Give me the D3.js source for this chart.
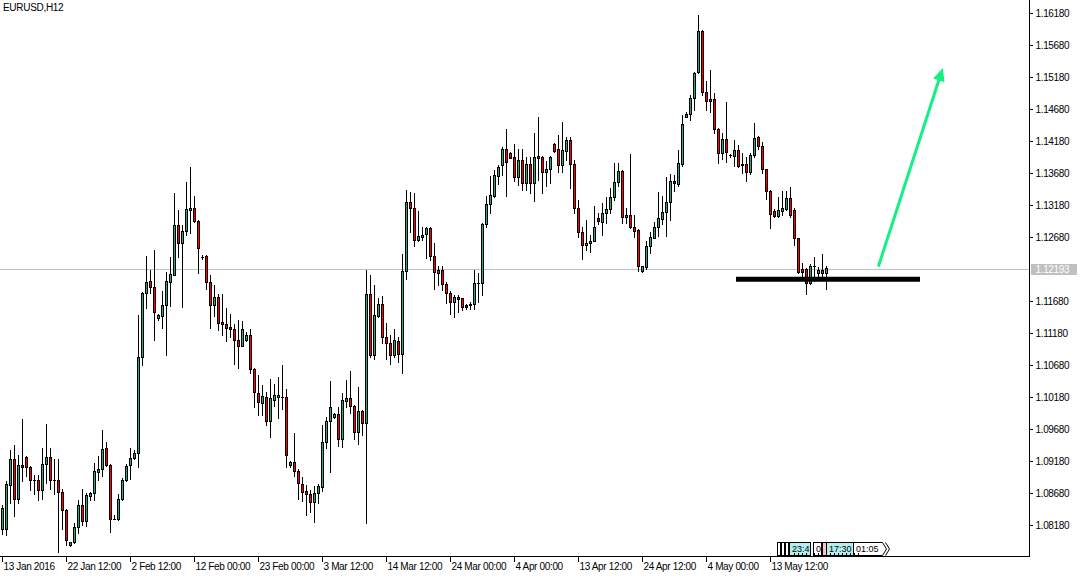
<!DOCTYPE html>
<html><head><meta charset="utf-8">
<script src="https://cdn.jsdelivr.net/npm/d3@7"></script>
<style>
html,body{margin:0;padding:0;background:#fff;}
svg{display:block;font-family:"Liberation Sans",Arial,sans-serif;}
</style></head><body>
<svg id="chart" width="1082" height="578"></svg>
<script>
const symbolTitle = "EURUSD,H12";

const opens = [1.0812,1.0811,1.0881,1.0921,1.0859,1.0911,1.0925,1.0909,1.0889,1.0889,
1.0872,1.0913,1.0925,1.0889,1.0889,1.0869,1.0842,1.0787,1.0791,1.0815,
1.0849,1.0825,1.0864,1.0868,1.0901,1.0905,1.0938,1.0911,1.0828,1.0827,
1.0858,1.0888,1.0911,1.0922,1.0930,1.1080,1.1180,1.1199,1.1190,1.1141,
1.1144,1.1161,1.1198,1.1209,1.1287,1.1258,1.1277,1.1310,1.1313,1.1293,
1.1237,1.1238,1.1198,1.1162,1.1174,1.1135,1.1132,1.1127,1.1124,1.1107,
1.1098,1.1107,1.1115,1.1061,1.1025,1.1009,1.1018,1.0981,1.1014,1.1018,
1.1018,1.1018,1.0911,1.0916,1.0902,1.0882,1.0871,1.0866,1.0854,1.0868,
1.0878,1.0947,1.0980,1.0986,1.0991,1.0952,1.1012,1.1016,1.1004,1.0963,
1.0996,1.0977,1.1179,1.1083,1.1145,1.1164,1.1111,1.1102,1.1083,1.1106,
1.1085,1.1215,1.1322,1.1314,1.1264,1.1268,1.1272,1.1282,1.1239,1.1211,
1.1216,1.1195,1.1181,1.1167,1.1175,1.1172,1.1162,1.1161,1.1164,1.1196,
1.1196,1.1289,1.1319,1.1332,1.1364,1.1381,1.1405,1.1400,1.1393,1.1362,
1.1389,1.1353,1.1382,1.1352,1.1395,1.1393,1.1370,1.1374,1.1413,1.1405,
1.1381,1.1403,1.1420,1.1382,1.1313,1.1276,1.1255,1.1258,1.1262,1.1298,
1.1292,1.1305,1.1311,1.1330,1.1354,1.1371,1.1299,1.1302,1.1283,1.1279,
1.1215,1.1221,1.1254,1.1267,1.1283,1.1296,1.1307,1.1322,1.1356,1.1351,
1.1382,1.1456,1.1460,1.1485,1.1526,1.1590,1.1494,1.1484,1.1484,1.1436,
1.1400,1.1421,1.1396,1.1395,1.1404,1.1382,1.1382,1.1369,1.1396,1.1424,
1.1410,1.1374,1.1340,1.1309,1.1301,1.1309,1.1312,1.1329,1.1310,1.1266,
1.1218,1.1218,1.1196,1.1222,1.1212,1.1216,1.1211];

const highs = [1.0850,1.0887,1.0935,1.0943,1.0927,1.0984,1.0926,1.0910,1.0896,1.0896,
1.0938,1.0976,1.0938,1.0921,1.0921,1.0875,1.0843,1.0792,1.0821,1.0857,
1.0874,1.0868,1.0869,1.0915,1.0926,1.0966,1.0948,1.0913,1.0833,1.0866,
1.0892,1.0914,1.0938,1.0935,1.1146,1.1182,1.1238,1.1216,1.1247,1.1147,
1.1184,1.1214,1.1236,1.1337,1.1310,1.1287,1.1354,1.1377,1.1332,1.1295,
1.1240,1.1240,1.1209,1.1193,1.1179,1.1179,1.1157,1.1148,1.1132,1.1138,
1.1137,1.1120,1.1124,1.1063,1.1052,1.1037,1.1026,1.1046,1.1039,1.1050,
1.1068,1.1030,1.0918,1.0961,1.0906,1.0893,1.0881,1.0872,1.0879,1.0882,
1.0975,1.0986,1.1043,1.0993,1.1003,1.1024,1.1045,1.1058,1.1005,1.1034,
1.0997,1.1216,1.1209,1.1193,1.1172,1.1176,1.1133,1.1115,1.1124,1.1112,
1.1241,1.1341,1.1338,1.1336,1.1308,1.1284,1.1284,1.1284,1.1258,1.1222,
1.1222,1.1197,1.1183,1.1178,1.1177,1.1172,1.1164,1.1167,1.1216,1.1211,
1.1290,1.1332,1.1364,1.1373,1.1381,1.1408,1.1437,1.1401,1.1413,1.1405,
1.1405,1.1393,1.1393,1.1430,1.1456,1.1394,1.1387,1.1394,1.1415,1.1427,
1.1447,1.1425,1.1424,1.1389,1.1326,1.1284,1.1295,1.1271,1.1317,1.1306,
1.1321,1.1330,1.1344,1.1384,1.1383,1.1373,1.1313,1.1398,1.1302,1.1280,
1.1223,1.1261,1.1276,1.1292,1.1339,1.1332,1.1361,1.1366,1.1365,1.1404,
1.1459,1.1463,1.1490,1.1526,1.1615,1.1591,1.1511,1.1529,1.1493,1.1438,
1.1431,1.1479,1.1398,1.1419,1.1412,1.1400,1.1393,1.1399,1.1446,1.1426,
1.1417,1.1375,1.1341,1.1311,1.1330,1.1340,1.1340,1.1346,1.1314,1.1267,
1.1228,1.1219,1.1226,1.1237,1.1221,1.1241,1.1223];

const lows = [1.0804,1.0803,1.0853,1.0832,1.0852,1.0887,1.0894,1.0873,1.0867,1.0857,
1.0858,1.0883,1.0874,1.0866,1.0776,1.0811,1.0787,1.0785,1.0790,1.0806,
1.0818,1.0816,1.0857,1.0857,1.0888,1.0894,1.0910,1.0807,1.0827,1.0826,
1.0857,1.0886,1.0890,1.0921,1.0909,1.1068,1.1157,1.1181,1.1107,1.1139,
1.1126,1.1084,1.1160,1.1208,1.1236,1.1159,1.1271,1.1274,1.1292,1.1212,
1.1233,1.1186,1.1126,1.1145,1.1122,1.1115,1.1105,1.1112,1.1070,1.1063,
1.1097,1.1106,1.1055,1.1002,1.0990,1.0990,1.0974,1.0956,1.1004,1.0985,
1.1000,1.0909,1.0908,1.0895,1.0858,1.0856,1.0833,1.0839,1.0823,1.0853,
1.0871,1.0939,1.0901,1.0985,1.0942,1.0940,1.1002,1.0993,1.0953,1.0944,
1.0959,1.0821,1.1081,1.1078,1.1143,1.1103,1.1077,1.1070,1.1080,1.1072,
1.1056,1.1202,1.1276,1.1254,1.1261,1.1264,1.1235,1.1232,1.1186,1.1193,
1.1185,1.1165,1.1148,1.1143,1.1151,1.1154,1.1155,1.1155,1.1155,1.1167,
1.1178,1.1283,1.1305,1.1330,1.1351,1.1365,1.1332,1.1391,1.1355,1.1349,
1.1341,1.1341,1.1337,1.1325,1.1357,1.1336,1.1348,1.1353,1.1401,1.1370,
1.1370,1.1389,1.1344,1.1306,1.1268,1.1233,1.1247,1.1244,1.1261,1.1289,
1.1271,1.1290,1.1305,1.1326,1.1348,1.1290,1.1290,1.1282,1.1268,1.1215,
1.1214,1.1218,1.1243,1.1266,1.1269,1.1288,1.1269,1.1295,1.1340,1.1348,
1.1379,1.1455,1.1451,1.1466,1.1524,1.1490,1.1466,1.1464,1.1431,1.1384,
1.1390,1.1385,1.1393,1.1379,1.1378,1.1368,1.1356,1.1367,1.1393,1.1405,
1.1368,1.1327,1.1282,1.1299,1.1299,1.1302,1.1310,1.1300,1.1256,1.1212,
1.1206,1.1179,1.1195,1.1200,1.1206,1.1206,1.1186];

const closes = [1.0845,1.0882,1.0921,1.0859,1.0911,1.0908,1.0908,1.0889,1.0889,1.0872,
1.0913,1.0925,1.0889,1.0889,1.0869,1.0842,1.0794,1.0791,1.0815,1.0849,
1.0825,1.0865,1.0868,1.0902,1.0905,1.0936,1.0911,1.0828,1.0828,1.0858,
1.0888,1.0910,1.0922,1.0930,1.1080,1.1180,1.1198,1.1190,1.1151,1.1146,
1.1161,1.1199,1.1210,1.1287,1.1258,1.1277,1.1311,1.1313,1.1293,1.1251,
1.1237,1.1197,1.1161,1.1174,1.1134,1.1132,1.1126,1.1124,1.1107,1.1098,
1.1125,1.1115,1.1061,1.1026,1.1010,1.1020,1.0981,1.1016,1.1021,1.1021,
1.1018,1.0927,1.0916,1.0902,1.0883,1.0870,1.0866,1.0854,1.0868,1.0879,
1.0947,1.0980,1.1003,1.0991,1.0952,1.1013,1.1016,1.1004,1.0963,1.0996,
1.0977,1.1179,1.1083,1.1146,1.1163,1.1111,1.1102,1.1083,1.1107,1.1085,
1.1215,1.1322,1.1314,1.1264,1.1270,1.1271,1.1282,1.1239,1.1213,1.1216,
1.1195,1.1181,1.1166,1.1175,1.1171,1.1158,1.1159,1.1164,1.1196,1.1196,
1.1289,1.1319,1.1333,1.1365,1.1378,1.1405,1.1385,1.1392,1.1362,1.1389,
1.1353,1.1382,1.1352,1.1393,1.1392,1.1369,1.1374,1.1393,1.1403,1.1380,
1.1404,1.1420,1.1382,1.1313,1.1276,1.1255,1.1258,1.1262,1.1283,1.1293,
1.1305,1.1311,1.1330,1.1354,1.1371,1.1299,1.1302,1.1283,1.1278,1.1222,
1.1222,1.1254,1.1268,1.1284,1.1297,1.1307,1.1322,1.1356,1.1352,1.1383,
1.1445,1.1460,1.1485,1.1524,1.1590,1.1494,1.1481,1.1481,1.1436,1.1400,
1.1421,1.1401,1.1396,1.1404,1.1379,1.1380,1.1369,1.1396,1.1422,1.1410,
1.1374,1.1340,1.1304,1.1301,1.1310,1.1313,1.1329,1.1302,1.1266,1.1214,
1.1214,1.1196,1.1223,1.1222,1.1216,1.1211,1.1219];

const timeTickIndex = [0,16,32,48,64,80,96,112,128,144,160,176,192];
const timeTickLabels = ["13 Jan 2016","22 Jan 12:00","2 Feb 12:00","12 Feb 00:00","23 Feb 00:00",
  "3 Mar 12:00","14 Mar 12:00","24 Mar 00:00","4 Apr 00:00","13 Apr 12:00","24 Apr 12:00",
  "4 May 00:00","13 May 12:00"];
const priceTicks = [1.0818,1.0868,1.0918,1.0968,1.1018,1.1068,1.1118,1.1168,
  1.1268,1.1318,1.1368,1.1418,1.1468,1.1518,1.1568,1.1618];
const currentPrice = 1.12193;
const supportLevel = 1.1202;
const supportRange = [183.5, 229.5];
const arrowStart = [219.1, 1.1222];
const arrowEnd = [235.2, 1.1532];
const eventLabels = ["", "", "", "23:4", "0", "", "17:30", "01:05"];
const eventKinds = ["w","w","w","c","w","p","c","w"];

const svg = d3.select("#chart");
const W = 1082, H = 578;
const axisX = 1029, axisY = 556;
const N = opens.length;

const x = d3.scaleLinear().domain([0, N - 1]).range([2, 2 + 4 * (N - 1)]);
const y = d3.scaleLinear().domain([1.0818, 1.1618]).range([525, 13]);

svg.append("rect").attr("width", W).attr("height", H).attr("fill", "#fff");

const plot = svg.append("g").attr("shape-rendering", "crispEdges");

// current price (bid) line
const cy = Math.round(y(currentPrice)) + 1;
plot.append("rect").attr("x", 0).attr("y", cy).attr("width", axisX).attr("height", 1).attr("fill", "#c0c0c0");

// candles
const candles = d3.range(N).map(i => ({i, o: opens[i], h: highs[i], l: lows[i], c: closes[i]}));
const BULL = "#31a36b", BEAR = "#ff0000";
const cg = plot.append("g").selectAll("g").data(candles).join("g");
cg.each(function(d) {
  const g = d3.select(this);
  const cx = Math.round(x(d.i));
  const yh = Math.round(y(d.h)), yl = Math.round(y(d.l));
  const yt = Math.round(y(Math.max(d.o, d.c))), yb = Math.round(y(Math.min(d.o, d.c)));
  g.append("rect").attr("x", cx).attr("y", yh).attr("width", 1).attr("height", yl - yh + 1).attr("fill", "#000");
  g.append("rect").attr("x", cx - 1).attr("y", yt).attr("width", 3).attr("height", yb - yt + 1).attr("fill", "#000");
  if (yb - yt >= 2 && d.c !== d.o) {
    g.append("rect").attr("x", cx).attr("y", yt + 1).attr("width", 1).attr("height", yb - yt - 1)
      .attr("fill", d.c > d.o ? BULL : BEAR);
  }
});

// axis frame lines
plot.append("rect").attr("x", axisX).attr("y", 0).attr("width", 1).attr("height", axisY + 1).attr("fill", "#000");
plot.append("rect").attr("x", 0).attr("y", axisY).attr("width", axisX + 1).attr("height", 1).attr("fill", "#000");

// y axis
const yAxis = d3.axisRight(y).tickValues(priceTicks).tickFormat(d3.format(".5f"))
  .tickSize(3).tickSizeOuter(0).tickPadding(3);
const yg = svg.append("g").attr("transform", `translate(${axisX + 0.5},0)`).call(yAxis);
yg.select(".domain").remove();
yg.selectAll(".tick line").attr("stroke", "#000").attr("shape-rendering", "crispEdges");
yg.selectAll(".tick text").attr("fill", "#000").attr("font-size", "10px")
  .attr("font-family", "Liberation Sans, Arial, sans-serif").attr("letter-spacing", "-0.35px");

// x axis
const xAxis = d3.axisBottom(x).tickValues(timeTickIndex).tickFormat((d, i) => timeTickLabels[i])
  .tickSize(5).tickSizeOuter(0).tickPadding(1);
const xg = svg.append("g").attr("transform", `translate(0,${axisY + 0.5})`).call(xAxis);
xg.select(".domain").remove();
xg.selectAll(".tick line").attr("stroke", "#000").attr("shape-rendering", "crispEdges");
xg.selectAll(".tick text").attr("fill", "#000").attr("font-size", "10px")
  .attr("font-family", "Liberation Sans, Arial, sans-serif").attr("letter-spacing", "-0.35px")
  .attr("text-anchor", "start").attr("x", 1);

// current price label
const lab = svg.append("g");
lab.append("rect").attr("x", 1031).attr("y", cy - 5).attr("width", 46).attr("height", 11).attr("fill", "#c0c0c0")
  .attr("shape-rendering", "crispEdges");
lab.append("text").attr("x", 1035.5).attr("y", cy + 0.5).attr("dy", "0.33em").attr("fill", "#fff")
  .attr("font-size", "10px").attr("letter-spacing", "-0.35px").text(d3.format(".5f")(currentPrice));

// title
svg.append("text").attr("x", 3).attr("y", 11).attr("font-size", "10px").attr("letter-spacing", "-0.3px")
  .attr("fill", "#000").text(symbolTitle);

// support line
svg.append("line").attr("x1", x(supportRange[0])).attr("x2", x(supportRange[1]))
  .attr("y1", y(supportLevel)).attr("y2", y(supportLevel))
  .attr("stroke", "#000").attr("stroke-width", 5);

// arrow
const ARROW = "#14f084";
const ax0 = x(arrowStart[0]), ay0 = y(arrowStart[1]);
const ax1 = x(arrowEnd[0]), ay1 = y(arrowEnd[1]);
const len = Math.hypot(ax1 - ax0, ay1 - ay0);
const ux = (ax1 - ax0) / len, uy = (ay1 - ay0) / len;
const headL = 13, headW = 6;
const bx = ax1 - ux * headL, by = ay1 - uy * headL;
svg.append("line").attr("x1", ax0).attr("y1", ay0).attr("x2", bx + ux * 2).attr("y2", by + uy * 2)
  .attr("stroke", ARROW).attr("stroke-width", 3);
svg.append("path").attr("d", `M${ax1},${ay1}L${bx - uy * headW},${by + ux * headW}L${bx + uy * headW},${by - ux * headW}Z`)
  .attr("fill", ARROW);

// event boxes at bottom
const evX = [777.5, 781.5, 785.5, 789.5, 813.5, 822.5, 826.5, 853.5];
const evW = [3, 3, 3, 21, 8, 4, 27, 29];
const fills = {w: "#ffffff", c: "#b4efef", p: "#ffc0cb"};
const ev = svg.append("g").attr("font-size", "9px");
eventLabels.forEach((t, k) => {
  if (k === eventLabels.length - 1) {
    const x0 = evX[k], x1 = evX[k] + evW[k];
    ev.append("path").attr("d", `M${x0},542.5H${x1}L${x1 + 4},549L${x1},555.5H${x0}Z`)
      .attr("fill", fills[eventKinds[k]]).attr("stroke", "#000").attr("stroke-width", 1);
    ev.append("path").attr("d", `M${x1 + 3},542.5L${x1 + 7},549L${x1 + 3},555.5`)
      .attr("fill", "none").attr("stroke", "#000").attr("stroke-width", 1);
  } else {
    ev.append("rect").attr("x", evX[k]).attr("y", 542.5).attr("width", evW[k]).attr("height", 13)
      .attr("fill", fills[eventKinds[k]]).attr("stroke", "#000").attr("stroke-width", 1)
      .attr("shape-rendering", "crispEdges");
  }
  if (t) ev.append("text").attr("x", evX[k] + 2.5).attr("y", 552).attr("fill", "#000").text(t);
});
d3.range(198, 215).forEach(i => {
  ev.append("rect").attr("x", Math.round(x(i))).attr("y", 553).attr("width", 1).attr("height", 3)
    .attr("fill", "#000").attr("shape-rendering", "crispEdges");
});
</script>
</body></html>
